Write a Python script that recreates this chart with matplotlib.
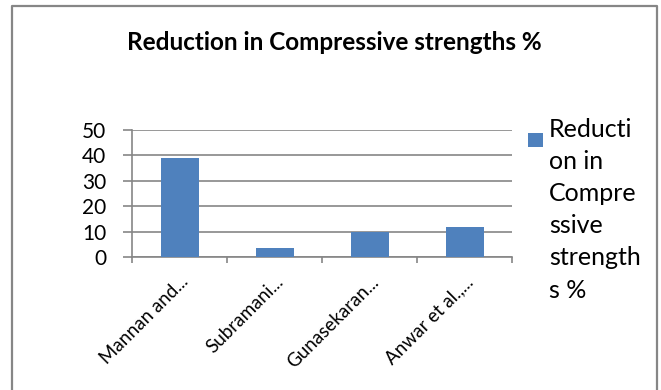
import matplotlib.pyplot as plt
from matplotlib.patches import Rectangle
from matplotlib.lines import Line2D
from matplotlib.transforms import ScaledTranslation

studies = ['Mannan and...', 'Subramani...', 'Gunasekaran...', 'Anwar et al.,...']
reduction = [39, 3.5, 10, 12]
yticks = [0, 10, 20, 30, 40, 50]
legend_label = 'Reducti\non in\nCompre\nssive\nstrength\ns %'

bar_color = '#4F81BD'
line_color = '#868686'

plt.rcParams['font.family'] = ['Lato', 'DejaVu Sans']

fig = plt.figure(figsize=(6.61, 3.90), dpi=100)
ax = fig.add_axes([132 / 661, 1 - 257 / 390, 380 / 661, 127 / 390])

x = list(range(len(studies)))
ax.bar(x, reduction, width=0.4, color=bar_color, zorder=3)

ax.set_xlim(-0.5, len(studies) - 0.5)
ax.set_ylim(0, 50)
ax.set_yticks(yticks)
ax.set_yticklabels([str(v) for v in yticks], fontsize=15)
ax.yaxis.grid(True, color=line_color, linewidth=1.2, zorder=0)
ax.tick_params(axis='y', length=6.5, width=1.2, color=line_color, pad=12)

# labels at bar centres, tick marks between categories
ax.set_xticks(x)
ax.set_xticklabels(studies, rotation=45, ha='right', va='center',
                   rotation_mode='anchor', fontsize=13.5)
ax.tick_params(axis='x', length=0, pad=16)
shift = ScaledTranslation(6 / 100, 0, fig.dpi_scale_trans)
for lbl in ax.get_xticklabels():
    lbl.set_transform(lbl.get_transform() + shift)
ax.set_xticks([i - 0.5 for i in range(len(studies) + 1)], minor=True)
ax.tick_params(axis='x', which='minor', length=4, color=line_color, width=1.2)

for side in ['top', 'right']:
    ax.spines[side].set_visible(False)
for side in ['left', 'bottom']:
    ax.spines[side].set_color(line_color)
    ax.spines[side].set_linewidth(1.2)

fig.text(334 / 661, 1 - 43 / 390, 'Reduction in Compressive strengths %',
         ha='center', va='center', fontsize=17.5, fontweight='bold')

# legend: square key next to the first line of the wrapped label
fig.patches.append(Rectangle((528 / 661, 1 - 147 / 390), 15 / 661, 14 / 390,
                             transform=fig.transFigure, facecolor=bar_color,
                             edgecolor='none'))
fig.text(549 / 661, 1 - 118 / 390, legend_label, ha='left', va='top',
         fontsize=18, linespacing=1.48)

# chart area border (open at the bottom)
fig.add_artist(Line2D([12 / 661, 12 / 661, 657 / 661, 657 / 661],
                      [0, 1 - 5.5 / 390, 1 - 5.5 / 390, 0],
                      transform=fig.transFigure, color=line_color, linewidth=1.6))

fig.savefig('out.png', dpi=100)
